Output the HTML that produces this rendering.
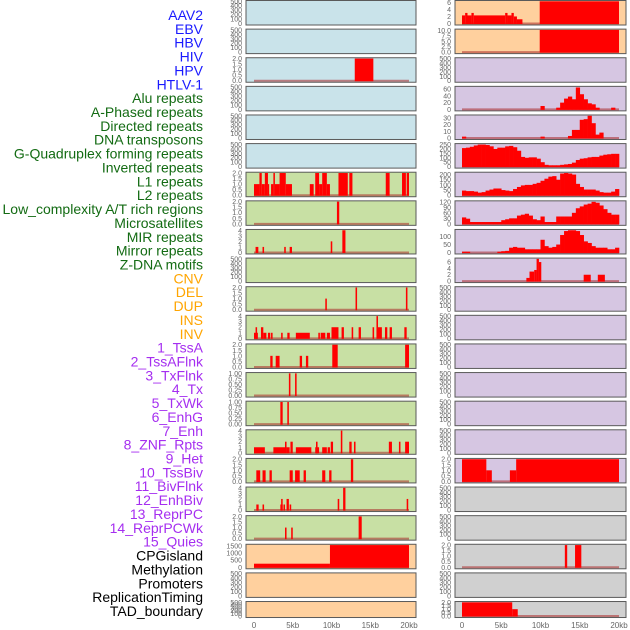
<!DOCTYPE html>
<html><head><meta charset="utf-8"><style>
html,body{margin:0;padding:0;background:#fff;width:630px;height:630px;overflow:hidden}
svg{display:block;font-family:"Liberation Sans",sans-serif}
</style></head><body>
<svg id="chart" width="630" height="630" viewBox="0 0 630 630" xmlns="http://www.w3.org/2000/svg"></svg>
<script>
// ---- labels ----
const labelTexts = ["AAV2","EBV","HBV","HIV","HPV","HTLV-1","Alu repeats","A-Phased repeats","Directed repeats","DNA transposons","G-Quadruplex forming repeats","Inverted repeats","L1 repeats","L2 repeats","Low_complexity A/T rich regions","Microsatellites","MIR repeats","Mirror repeats","Z-DNA motifs","CNV","DEL","DUP","INS","INV","1_TssA","2_TssAFlnk","3_TxFlnk","4_Tx","5_TxWk","6_EnhG","7_Enh","8_ZNF_Rpts","9_Het","10_TssBiv","11_BivFlnk","12_EnhBiv","13_ReprPC","14_ReprPCWk","15_Quies","CPGisland","Methylation","Promoters","ReplicationTiming","TAD_boundary"];
const labelGroups = [6,13,5,15,5];
const groupColors = ["#1a1aff","#136b13","#ffa500","#a52ef0","#000000"];

// ---- tick label sets ----
const ticksEmpty = [0,100,200,300,400,500];
const ticks2 = [0,0.5,1,1.5,2];
const ticks1 = [0,0.25,0.5,0.75,1];
const ticks4 = [0,1,2,3,4];
const ticks1500 = [0,500,1000,1500];
const ticks6 = [0,2,4,6];
const ticks10 = [0,2.5,5,7.5,10];
const ticks60 = [0,20,40,60];
const ticks30 = [0,10,20,30];
const ticks250 = [0,50,100,150,200,250];
const ticks200 = [0,50,100,150,200];
const ticks120 = [0,30,60,90,120];
const ticks100 = [0,50,100];

// ---- left column spans [startKb, endKb, value] ----
const leftHIV = [[13.0,15.4,2]];
const leftL1 = [[0,0.7,1],[0.7,1.0,2],[1.0,1.4,1],[1.4,1.8,2],[1.8,1.9,1],[2.2,2.5,1],[2.5,2.7,2],[2.7,3.3,1],[3.3,4.1,2],[4.1,4.9,1],[7.2,7.7,1],[7.9,8.4,2],[8.4,8.8,1],[8.8,9.4,2],[9.4,9.8,1],[10.9,12.1,2],[12.3,12.7,2],[17.0,17.5,2],[19.1,19.6,2],[19.7,20.0,2]];
const leftL2 = [[10.7,11.0,2]];
const leftLowComplex = [[0.2,0.56,1],[1.1,1.3,1],[3.9,4.1,1],[4.6,4.9,1],[9.9,10.1,2],[11.4,11.8,4]];
const leftMirror = [[9.2,9.4,1],[13.1,13.3,2],[19.6,19.8,2]];
const leftZdna = [[0,0.5,1],[0.2,0.4,2],[0.9,1.2,2],[1.2,1.6,1],[1.8,2.1,1],[2.2,2.4,1],[3.5,3.7,1],[4.3,4.6,1],[5.4,7.2,1],[8.3,8.5,1],[8.6,9.2,1],[9.4,9.8,1],[10.0,10.9,2],[11.3,11.6,2],[12.6,12.8,2],[13.5,13.8,2],[15.3,15.5,2],[15.8,16.0,4],[16.0,16.5,2],[16.9,17.2,2],[17.5,17.8,2],[19.4,19.7,2]];
const leftDel = [[2.1,2.4,1],[2.8,3.3,1],[5.9,6.2,1],[6.7,7.0,1],[10.1,10.8,2],[19.5,20.0,2]];
const leftDup = [[4.5,4.7,1],[5.3,5.5,1]];
const leftIns = [[3.4,3.7,1],[4.3,4.5,1]];
const leftInv = [[0,1.4,1],[2.5,4.0,1],[4.0,4.2,2],[4.2,4.6,1],[4.7,5.0,2],[5.4,7.4,1],[7.9,8.4,1],[8.0,8.2,2],[8.8,9.4,1],[9.5,9.8,1],[9.9,10.2,2],[11.2,11.4,4],[12.3,12.6,2],[12.9,13.1,2],[17.4,17.8,2],[18.7,18.9,2],[19.5,20.0,2]];
const leftTssA = [[0.3,0.8,1],[1.1,1.5,1],[2.0,2.3,1],[4.6,5.0,1],[5.3,5.9,1],[6.4,6.7,1],[8.8,9.2,1],[9.7,10.0,1],[12.5,12.8,2]];
const leftTssAFlnk = [[0.3,0.6,1],[1.1,1.3,1],[3.4,3.7,1],[3.5,3.7,2],[3.8,4.0,1],[4.2,4.5,2],[4.6,4.8,1],[10.8,11.0,2],[11.5,11.8,4],[19.7,19.9,2]];
const leftTxFlnk = [[4.0,4.2,1],[4.8,5.0,1],[13.5,13.9,2]];
const leftCpg = [[0,9.8,250],[9.8,20,1600]];

// ---- right column ----
const rightAAV2 = [[0,0.4,2.3],[0.4,0.7,3],[0.7,1.2,2.3],[1.2,1.5,3],[1.5,5.5,2.3],[5.5,5.8,3],[5.8,6.3,2.3],[6.3,6.6,3],[6.6,7.0,2],[7.0,7.7,1.2],[9.9,20,7]];
const rightEBV = [[9.9,20,11]];
// histogram bins of 0.5 kb (0 .. 20 kb)
const rightAlu = [0,0,0,0,0,0,0,0,0,0,0,0,0,0,0,0,0,0,0,0,10,0,0,0,5,20,32,38,30,65,45,30,18,15,5,0,0,0,5,0];
const rightAPhased = [2,0,0,0,0,0,0,0,0,0,0,0,0,0,0,0,0,0,0,0,2,0,0,0,0,0,0,3,12,12,27,28,33,22,5,8,0,0,0,0];
const rightDirected = [210,215,225,240,250,250,245,230,200,215,215,230,235,220,180,110,100,105,105,90,50,20,15,15,15,20,25,30,45,75,90,95,105,110,110,125,135,140,145,145];
const rightDNAtrans = [45,40,40,35,25,30,45,55,65,65,50,45,40,60,80,95,100,100,110,120,140,160,180,185,150,210,215,210,200,110,80,55,55,55,45,30,25,25,35,60];
const rightGquad = [35,28,10,10,10,10,10,10,10,10,20,25,30,30,45,50,55,45,25,20,40,10,10,10,40,40,40,40,60,85,95,105,110,120,115,100,80,60,50,50];
const rightInverted = [5,5,0,0,0,0,0,0,0,5,8,10,30,35,30,30,20,20,20,20,80,40,30,35,50,110,135,140,140,135,110,70,60,40,30,30,30,20,20,30];
const rightL1 = [[8.2,8.6,1],[8.6,9.2,3],[9.2,9.5,3.5],[9.5,9.8,7],[9.8,10.1,6],[15.5,16.4,2],[17.3,18.2,2]];
const rightTssBiv = [[0,3.1,2],[3.1,3.8,1],[6.1,6.9,1],[6.9,20,2]];
const rightCpg = [[13.1,13.4,2],[14.4,15.2,2]];
const rightTad = [[0,6.4,2],[6.4,7.1,1]];

const xTickVals = [0,5,10,15,20];
const xTickLabels = ["0","5kb","10kb","15kb","20kb"];

const BLUE="#c9e3ea", GREEN="#c8e0a4", ORANGE="#ffd09e", PURPLE="#d6c6e2", GRAY="#d0d0d0";
const leftPanels = [
 {bg:BLUE,max:500,ticks:ticksEmpty},{bg:BLUE,max:500,ticks:ticksEmpty},
 {bg:BLUE,max:2,ticks:ticks2,dec:1,spans:leftHIV},
 {bg:BLUE,max:500,ticks:ticksEmpty},{bg:BLUE,max:500,ticks:ticksEmpty},{bg:BLUE,max:500,ticks:ticksEmpty},
 {bg:GREEN,max:2,ticks:ticks2,dec:1,spans:leftL1},
 {bg:GREEN,max:2,ticks:ticks2,dec:1,spans:leftL2},
 {bg:GREEN,max:4,ticks:ticks4,spans:leftLowComplex},
 {bg:GREEN,max:500,ticks:ticksEmpty},
 {bg:GREEN,max:2,ticks:ticks2,dec:1,spans:leftMirror},
 {bg:GREEN,max:4,ticks:ticks4,spans:leftZdna},
 {bg:GREEN,max:2,ticks:ticks2,dec:1,spans:leftDel},
 {bg:GREEN,max:1,ticks:ticks1,dec:2,spans:leftDup},
 {bg:GREEN,max:1,ticks:ticks1,dec:2,spans:leftIns},
 {bg:GREEN,max:4,ticks:ticks4,spans:leftInv},
 {bg:GREEN,max:2,ticks:ticks2,dec:1,spans:leftTssA},
 {bg:GREEN,max:4,ticks:ticks4,spans:leftTssAFlnk},
 {bg:GREEN,max:2,ticks:ticks2,dec:1,spans:leftTxFlnk},
 {bg:ORANGE,max:1550,ticks:ticks1500,spans:leftCpg},
 {bg:ORANGE,max:500,ticks:ticksEmpty},
 {bg:ORANGE,max:500,ticks:ticksEmpty}
];
const rightPanels = [
 {bg:ORANGE,max:6.3,ticks:ticks6,spans:rightAAV2},
 {bg:ORANGE,max:10.3,ticks:ticks10,dec:1,spans:rightEBV},
 {bg:PURPLE,max:500,ticks:ticksEmpty},
 {bg:PURPLE,max:66,ticks:ticks60,bins:rightAlu},
 {bg:PURPLE,max:33,ticks:ticks30,bins:rightAPhased},
 {bg:PURPLE,max:252,ticks:ticks250,bins:rightDirected},
 {bg:PURPLE,max:215,ticks:ticks200,bins:rightDNAtrans},
 {bg:PURPLE,max:121,ticks:ticks120,bins:rightGquad},
 {bg:PURPLE,max:140,ticks:ticks100,bins:rightInverted},
 {bg:PURPLE,max:7,ticks:ticks6,spans:rightL1},
 {bg:PURPLE,max:500,ticks:ticksEmpty},{bg:PURPLE,max:500,ticks:ticksEmpty},{bg:PURPLE,max:500,ticks:ticksEmpty},
 {bg:PURPLE,max:500,ticks:ticksEmpty},{bg:PURPLE,max:500,ticks:ticksEmpty},{bg:PURPLE,max:500,ticks:ticksEmpty},
 {bg:PURPLE,max:2,ticks:ticks2,dec:1,spans:rightTssBiv},
 {bg:GRAY,max:500,ticks:ticksEmpty},{bg:GRAY,max:500,ticks:ticksEmpty},
 {bg:GRAY,max:2,ticks:ticks2,dec:1,spans:rightCpg},
 {bg:GRAY,max:500,ticks:ticksEmpty},
 {bg:GRAY,max:2,ticks:ticks2,dec:1,spans:rightTad}
];

const NS="http://www.w3.org/2000/svg";
const svg=document.getElementById("chart");
function mk(tag,attrs,parent){const e=document.createElementNS(NS,tag);for(const k in attrs)e.setAttribute(k,attrs[k]);(parent||svg).appendChild(e);return e;}

// labels
let li=0;
labelGroups.forEach((n,g)=>{for(let k=0;k<n;k++){
  const t=mk("text",{x:203,y:15+li*13.86+5,"text-anchor":"end","font-size":"14",fill:groupColors[g]});
  t.textContent=labelTexts[li];
  
  
  li++;}});

const cols=[{x0:246,x1:416,z:254,k:7.75,panels:leftPanels,tx:242,name:"left"},{x0:455,x1:626,z:462,k:7.85,panels:rightPanels,tx:451,name:"right"}];
cols.forEach(c=>{
  const xs=kb=>c.z+kb*c.k;
  c.panels.forEach((p,i)=>{
    const top=i*28.62+0.5, h=(i===21)?16:24.5;
    const g=mk("g",{});
    
    
    mk("rect",{x:c.x0,y:top,width:c.x1-c.x0,height:h,fill:p.bg,stroke:"#5a5a5a","stroke-width":"1"},g);
    const yb=top+h-1.5, yt=top+0.8;
    const ys=v=>yb-(Math.min(v,p.max)/p.max)*(yb-yt);
    // ticks
    p.ticks.forEach(v=>{
      const t=mk("text",{x:c.tx,y:ys(v)+2.5,"text-anchor":"end","font-size":"7",fill:"#666"},g);
      t.textContent=p.dec?v.toFixed(p.dec):String(v);
      
      
    });
    const hasData=p.spans||p.bins;
    if(hasData){
      mk("line",{x1:xs(0),x2:xs(20),y1:yb,y2:yb,stroke:"rgba(170,40,40,0.55)","stroke-width":"2"},g);
    }
    if(p.spans){p.spans.forEach(s=>{
      const r=mk("rect",{x:xs(s[0]),y:ys(s[2]),width:Math.max(1.2,xs(s[1])-xs(s[0])),height:yb-ys(s[2])+0.5,fill:"#ff0000"},g);
      
      
    });}
    if(p.bins){p.bins.forEach((v,b)=>{
      if(v<=0)return;
      const r=mk("rect",{x:xs(b*0.5),y:ys(v),width:xs(0.5)-xs(0)+0.3,height:yb-ys(v)+0.5,fill:"#ff0000"},g);
      
      
    });}
  });
  xTickVals.forEach((v,j)=>{
    const t=mk("text",{x:xs(v),y:628,"text-anchor":"middle","font-size":"8",fill:"#666"});
    t.textContent=xTickLabels[j];
    
    
  });
});
</script>
</body></html>
